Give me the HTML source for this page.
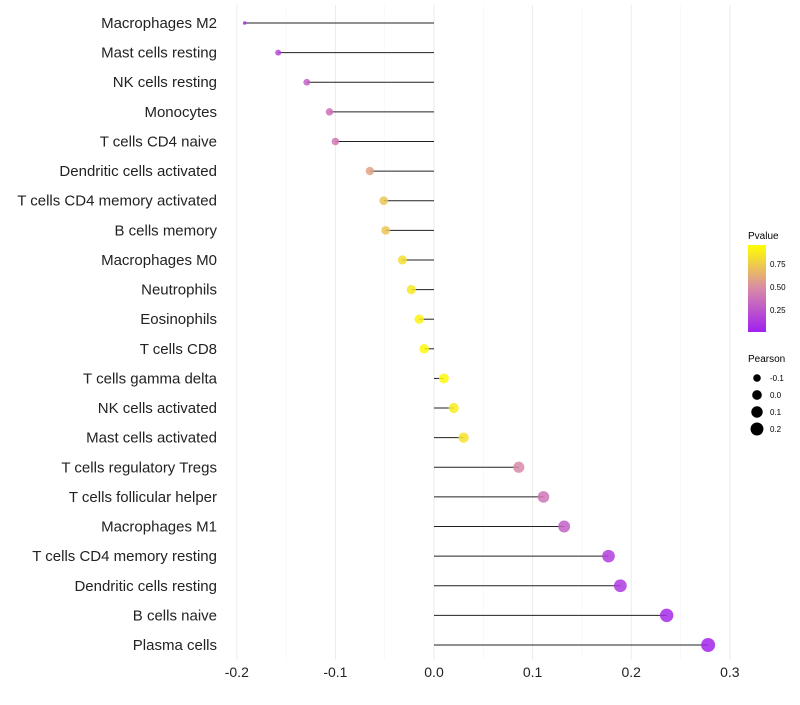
<!DOCTYPE html>
<html><head><meta charset="utf-8"><style>
body{margin:0;background:#fff;}
text{font-family:"Liberation Sans",sans-serif;}
</style></head><body>
<svg id="chart" width="800" height="700" xmlns="http://www.w3.org/2000/svg">
<defs><linearGradient id="pg" x1="0" y1="1" x2="0" y2="0">
<stop offset="0" stop-color="#a020f0"/><stop offset="0.5" stop-color="#d98aa8"/><stop offset="1" stop-color="#ffff00"/>
</linearGradient></defs>
<g id="grid"></g><g id="marks"></g><g id="labels"></g><g id="xticks"></g>
<g id="legend">
<text x="748" y="239" font-size="10">Pvalue</text>
<rect x="748" y="245" width="18" height="87" fill="url(#pg)"/>
<text x="770" y="267" font-size="8">0.75</text>
<text x="770" y="290" font-size="8">0.50</text>
<text x="770" y="313" font-size="8">0.25</text>
<text x="748" y="362" font-size="10">Pearson</text>
<g id="sizeleg"></g>
</g>
</svg>
<script>
const categories=["Macrophages M2","Mast cells resting","NK cells resting","Monocytes","T cells CD4 naive","Dendritic cells activated","T cells CD4 memory activated","B cells memory","Macrophages M0","Neutrophils","Eosinophils","T cells CD8","T cells gamma delta","NK cells activated","Mast cells activated","T cells regulatory  Tregs ","T cells follicular helper","Macrophages M1","T cells CD4 memory resting","Dendritic cells resting","B cells naive","Plasma cells"];
const pearson=[-0.192,-0.158,-0.129,-0.106,-0.100,-0.065,-0.051,-0.049,-0.032,-0.023,-0.015,-0.010,0.010,0.020,0.030,0.086,0.111,0.132,0.177,0.189,0.236,0.278];
const pvalues=[0.05,0.2,0.3,0.38,0.42,0.6,0.75,0.75,0.85,0.9,0.95,0.97,0.97,0.93,0.88,0.5,0.4,0.3,0.15,0.12,0.05,0.02];
const xTicks=[-0.2,-0.1,0,0.1,0.2,0.3];
const xTickLabels=["-0.2","-0.1","0.0","0.1","0.2","0.3"];
const sizeLegend=[-0.1,0,0.1,0.2];
const NS="http://www.w3.org/2000/svg";
const x=v=>434+v*986;
const y=i=>23+i*(622/21);
const r=v=>v<-0.18?1.8:Math.sqrt(Math.max(4,23.5+91.7*v));
function lerp(a,b,t){return a.map((c,k)=>Math.round(c+(b[k]-c)*t));}
function col(p){const s=[[160,32,240],[217,138,168],[255,255,0]];let c=p<0.5?lerp(s[0],s[1],p/0.5):lerp(s[1],s[2],(p-0.5)/0.5);return `rgb(${c})`;}
function mk(tag,at,parent){const e=document.createElementNS(NS,tag);for(const k in at)e.setAttribute(k,at[k]);document.getElementById(parent).appendChild(e);return e;}
for(let v=-0.2;v<=0.301;v+=0.05){
 const major=Math.abs(Math.round(v*100)%10)<1;
 const g=mk("line",{x1:x(v),x2:x(v),y1:5,y2:660,stroke:major?"#ebebeb":"#f5f5f5","stroke-width":major?1:0.6},"grid");
 
 
}
xTicks.forEach((t,i)=>{
 const e=mk("text",{x:x(t),y:677,"font-size":14,"text-anchor":"middle",fill:"#222"},"xticks");e.textContent=xTickLabels[i];
 
 
});
categories.forEach((c,i)=>{
 const l=mk("text",{x:217,y:y(i)+5,"font-size":15,"text-anchor":"end",fill:"#222"},"labels");l.textContent=c;
 
 
 const s=mk("line",{x1:x(0),x2:x(pearson[i]),y1:y(i),y2:y(i),stroke:"#222","stroke-width":1},"marks");
 
 
 const p=mk("circle",{cx:x(pearson[i]),cy:y(i),r:r(pearson[i]),fill:col(pvalues[i]),"fill-opacity":0.85},"marks");
 
 
});
sizeLegend.forEach((v,i)=>{
 const cy=378+i*17;
 const c=mk("circle",{cx:757,cy:cy,r:r(v),fill:"#000"},"sizeleg");
 
 
 const t=mk("text",{x:770,y:cy+3,"font-size":8},"sizeleg");t.textContent=v===0?"0.0":String(v);
 
 
});
</script>
</body></html>
